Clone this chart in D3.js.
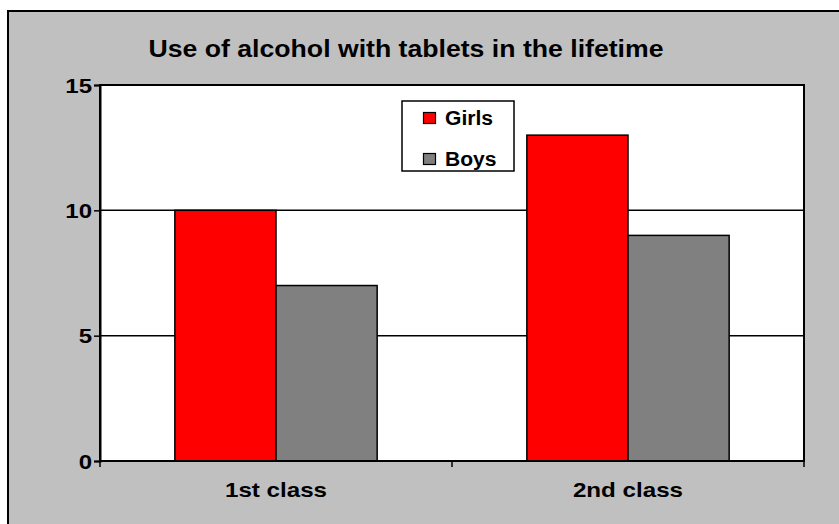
<!DOCTYPE html>
<html><head><meta charset="utf-8">
<script src="https://cdn.jsdelivr.net/npm/d3@7"></script>
<style>html,body{margin:0;padding:0;background:#fff;}svg{display:block;}</style>
</head><body>
<svg id="c" width="839" height="524"></svg>
<script>
const categories = ["1st class", "2nd class"];
const series = ["Girls", "Boys"];
const girls = [10, 13];
const boys = [7, 9];
const yTicks = [0, 5, 10, 15];
const colors = ["#ff0000", "#808080"];
const title = "Use of alcohol with tablets in the lifetime";

const values = [girls, boys];
const svg = d3.select("#c");
const font = "'Liberation Sans', Arial, sans-serif";

function stretch(sel, factor) {
  sel.each(function () {
    const w = this.getComputedTextLength();
    d3.select(this).attr("textLength", w * factor).attr("lengthAdjust", "spacingAndGlyphs");
  });
}

// background + outer border
svg.append("rect").attr("x", 0).attr("y", 0).attr("width", 839).attr("height", 524).attr("fill", "#fff");
svg.append("rect").attr("x", 8).attr("y", 11).attr("width", 840).attr("height", 530)
  .attr("fill", "#c0c0c0").attr("stroke", "#000").attr("stroke-width", 2);

const L = 100, R = 804, T = 85, B = 461;
const y = d3.scaleLinear().domain([0, 15]).range([B, T]);
const x0 = d3.scaleBand().domain(categories).range([L, R]).padding(0);
const x1 = d3.scaleBand().domain(series).range([0, x0.bandwidth()]).paddingInner(0).paddingOuter(0.74);

// plot area
svg.append("rect").attr("x", L).attr("y", T).attr("width", R - L).attr("height", B - T)
  .attr("fill", "#fff").attr("stroke", "#000").attr("stroke-width", 2);

// gridlines
svg.append("g").selectAll("line").data(yTicks.filter(d => d > 0 && d < 15)).join("line")
  .attr("x1", L).attr("x2", R).attr("y1", d => y(d)).attr("y2", d => y(d))
  .attr("stroke", "#000").attr("stroke-width", 1.5);

// bars
categories.forEach((c, ci) => {
  series.forEach((s, si) => {
    svg.append("rect")
      .attr("x", x0(c) + x1(s)).attr("y", y(values[si][ci]))
      .attr("width", x1.bandwidth()).attr("height", B - y(values[si][ci]))
      .attr("fill", colors[si]).attr("stroke", "#000").attr("stroke-width", 1.5);
  });
});

// y axis
const yAxis = d3.axisLeft(y).tickValues(yTicks).tickSize(6).tickPadding(2).tickFormat(d3.format("d"));
const ga = svg.append("g").attr("transform", `translate(${L},0)`).call(yAxis);
ga.select(".domain").attr("stroke", "#000").attr("stroke-width", 2);
ga.selectAll(".tick line").attr("stroke", "#000").attr("stroke-width", 1.5);
ga.selectAll("text").attr("font-family", font).attr("font-weight", "bold").attr("font-size", 20).attr("fill", "#000").attr("dy", "0.35em");
stretch(ga.selectAll("text"), 1.2);

// x axis
const gx = svg.append("g").attr("transform", `translate(0,${B})`);
gx.append("line").attr("x1", L).attr("x2", R).attr("y1", 0).attr("y2", 0).attr("stroke", "#000").attr("stroke-width", 2);
const xTickPos = [L, L + x0.step(), R];
gx.selectAll("line.t").data(xTickPos).join("line").attr("class", "t")
  .attr("x1", d => d).attr("x2", d => d).attr("y1", 0).attr("y2", 6).attr("stroke", "#000").attr("stroke-width", 1.5);
const xl = gx.selectAll("text").data(categories).join("text")
  .attr("x", d => x0(d) + x0.bandwidth() / 2).attr("y", 36)
  .attr("text-anchor", "middle").attr("font-family", font).attr("font-weight", "bold").attr("font-size", 21)
  .text(d => d);
stretch(xl, 1.15);

// title
const tt = svg.append("text").attr("x", 406).attr("y", 57).attr("text-anchor", "middle")
  .attr("font-family", font).attr("font-weight", "bold").attr("font-size", 23).text(title);
tt.attr("textLength", 515).attr("lengthAdjust", "spacingAndGlyphs");

// legend
const lg = svg.append("g").attr("transform", "translate(402,101)");
lg.append("rect").attr("width", 112).attr("height", 70).attr("fill", "#fff").attr("stroke", "#000").attr("stroke-width", 1.5);
series.forEach((s, i) => {
  const gy = 17 + i * 41;
  lg.append("rect").attr("x", 21.5).attr("y", gy - 5.5).attr("width", 12).attr("height", 11)
    .attr("fill", colors[i]).attr("stroke", "#000").attr("stroke-width", 1.2);
  const t = lg.append("text").attr("x", 43).attr("y", gy + 7).attr("font-family", font).attr("font-weight", "bold")
    .attr("font-size", 19.5).text(s);
  stretch(t, 1.08);
});
</script>
</body></html>
